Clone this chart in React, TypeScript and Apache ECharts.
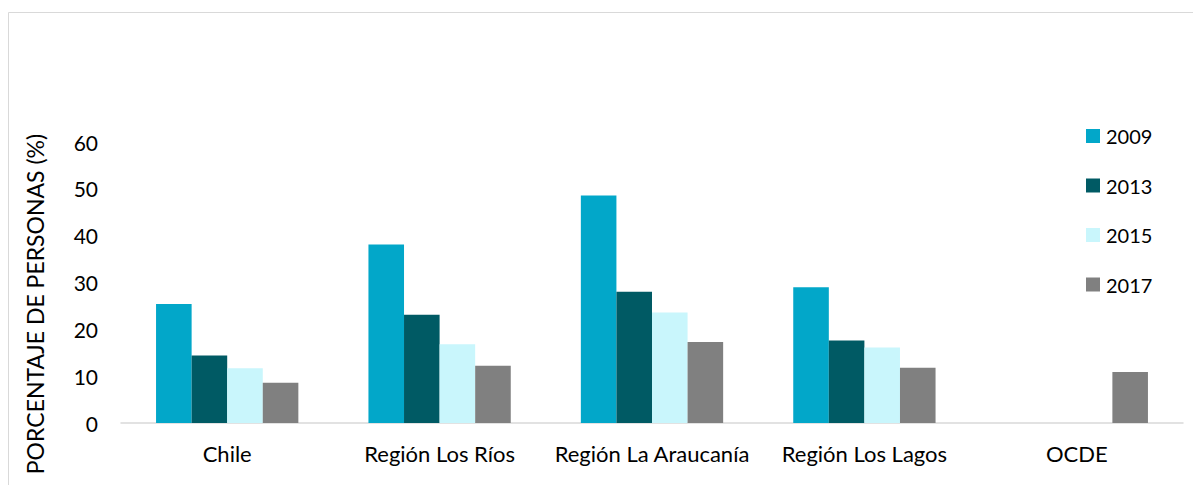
import React, { useEffect, useRef } from "react";
import * as echarts from "echarts";

const categories = ["Chile", "Región Los Ríos", "Región La Araucanía", "Región Los Lagos", "OCDE"];
const seriesNames = ["2009", "2013", "2015", "2017"];
const values2009 = [25.4, 38.1, 48.6, 29.0, null];
const values2013 = [14.4, 23.1, 28.0, 17.6, null];
const values2015 = [11.7, 16.8, 23.6, 16.1, null];
const values2017 = [8.6, 12.2, 17.3, 11.8, 10.9];
const colors = ["#02A7C9", "#005A64", "#C9F6FC", "#808080"];
const yTicks = { min: 0, max: 60, interval: 10 };
const yTitle = "PORCENTAJE DE PERSONAS (%)";
const FONT = "Lato, 'Open Sans', sans-serif";

export default function App() {
  const ref = useRef<HTMLDivElement>(null);
  useEffect(() => {
    if (!ref.current) return;
    const chart = echarts.init(ref.current, null, { renderer: "svg" });
    const allValues = [values2009, values2013, values2015, values2017];
    chart.setOption({
      animation: false,
      backgroundColor: "#fff",
      textStyle: { fontFamily: FONT },
      graphic: [
        {
          type: "rect",
          shape: { x: 8.5, y: 12.5, width: 1200, height: 500 },
          style: { fill: "none", stroke: "#D9D9D9", lineWidth: 1 },
          silent: true,
          z: -1,
        },
        {
          type: "text",
          x: 35,
          y: 304,
          rotation: Math.PI / 2,
          silent: true,
          style: {
            text: yTitle,
            fill: "#000",
            font: `23px ${FONT}`,
            align: "center",
            verticalAlign: "middle",
          },
        },
      ],
      legend: {
        orient: "vertical",
        left: 1081,
        top: 121,
        itemWidth: 14,
        itemHeight: 14,
        itemGap: 29.5,
        icon: "rect",
        data: seriesNames,
        textStyle: { fontSize: 20, color: "#000", fontFamily: FONT, padding: [0, 0, 0, 1] },
      },
      grid: {
        left: 121,
        right: 10,
        top: 142,
        bottom: 62,
        outerBoundsMode: "none",
        containLabel: false,
      },
      xAxis: {
        type: "category",
        data: categories,
        axisLine: { show: true, lineStyle: { color: "#D9D9D9", width: 1.5 } },
        axisTick: { show: false },
        axisLabel: { color: "#000", fontSize: 22, margin: 19, interval: 0, fontFamily: FONT },
      },
      yAxis: {
        type: "value",
        min: yTicks.min,
        max: yTicks.max,
        interval: yTicks.interval,
        axisLine: { show: false },
        axisTick: { show: false },
        splitLine: { show: false },
        axisLabel: { color: "#000", fontSize: 21, margin: 23, fontFamily: FONT },
      },
      series: seriesNames.map((name, i) => ({
        name,
        type: "bar",
        data: allValues[i],
        barGap: "0%",
        barCategoryGap: "33%",
        itemStyle: { color: colors[i] },
      })),
    });
    return () => chart.dispose();
  }, []);
  return (
    <div
      ref={ref}
      style={{ position: "fixed", left: 0, top: 0, width: 1193, height: 485 }}
    />
  );
}
